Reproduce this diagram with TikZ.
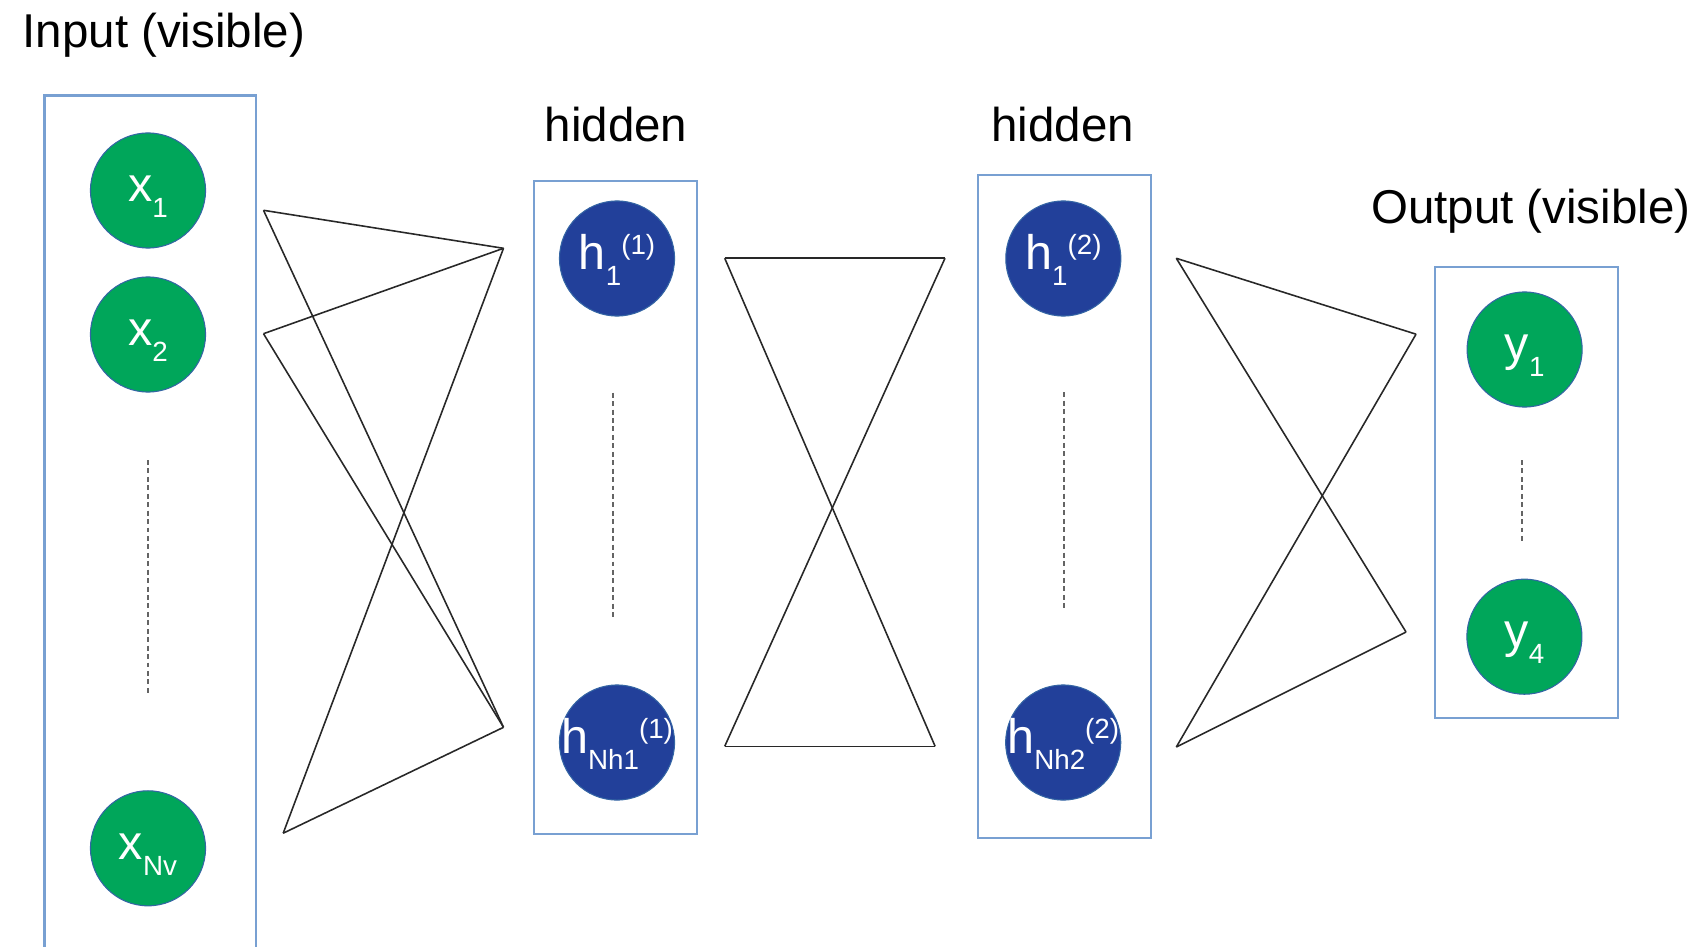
\documentclass[tikz,border=0pt]{standalone}
\usepackage{fontspec}
\setmainfont{Liberation Sans}
\definecolor{unitgreen}{RGB}{0,166,90}
\definecolor{unitblue}{RGB}{34,64,154}
\definecolor{unitedge}{RGB}{52,101,164}
\definecolor{layeredge}{RGB}{120,160,210}
\definecolor{linkgray}{RGB}{40,40,40}
\definecolor{dotgray}{RGB}{100,100,100}
% index helpers: lowered subscript and raised superscript
\newcommand\dnidx[1]{\raisebox{-4.5pt}{\fontsize{7.9pt}{9pt}\selectfont #1}}
\newcommand\upidx[1]{\raisebox{4.4pt}{\fontsize{7.9pt}{9pt}\selectfont #1}}
\tikzset{
  layerbox/.style={draw=layeredge, line width=0.6pt, rectangle, inner sep=0pt},
  unit/.style={circle, draw=unitedge, line width=0.3pt, inner sep=0pt, minimum size=1.15cm},
  vunit/.style={unit, fill=unitgreen},
  hunit/.style={unit, fill=unitblue},
  unitlbl/.style={anchor=base, inner sep=0pt, text=white, font=\fontsize{13.8pt}{16pt}\selectfont},
  head/.style={inner sep=0pt, font=\fontsize{13.5pt}{16pt}\selectfont},
  link/.style={draw=linkgray, line width=0.45pt},
  ellip/.style={draw=dotgray, line width=0.45pt, dash pattern=on 1.4pt off 1pt},
}
\begin{document}
\begin{tikzpicture}[x=0.01cm, y=-0.01cm]
\useasboundingbox (0,0) rectangle (1701,946);

% layer frames
\draw[layerbox] (44.5,960) -- (44.5,95.5) -- (256,95.5) -- (256,960);
\node[layerbox, minimum width=1.633cm, minimum height=6.52cm] (hbox1) at (615.35,507.5) {};
\node[layerbox, minimum width=1.722cm, minimum height=6.62cm] (hbox2) at (1064.4,506.5) {};
\node[layerbox, minimum width=1.828cm, minimum height=4.507cm] (obox) at (1526.6,492.85) {};

% layer titles
\node[head, anchor=base west] (tin) at (22,48) {Input (visible)};
\node[head, anchor=base] (th1) at (616,142) {hidden};
\node[head, anchor=base] (th2) at (1062.6,142) {hidden};
\node[head, anchor=base] (tout) at (1530.7,224) {Output (visible)};

% units
\node[vunit] (x1) at (148,190.5) {};
\node[vunit] (x2) at (148,334.5) {};
\node[vunit] (xn) at (148,848.3) {};
\node[hunit] (ha1) at (617,258.5) {};
\node[hunit] (han) at (617,742.5) {};
\node[hunit] (hb1) at (1063.3,258.5) {};
\node[hunit] (hbn) at (1063.2,742.5) {};
\node[vunit] (y1) at (1524.6,349.5) {};
\node[vunit] (y4) at (1524.4,636.7) {};

\node[unitlbl] (x1t) at ([yshift=-3.1pt]x1.center) {x\dnidx{1}};
\node[unitlbl] (x2t) at ([yshift=-3.1pt]x2.center) {x\dnidx{2}};
\node[unitlbl] (xnt) at ([yshift=-3.1pt]xn.center) {x\dnidx{Nv}};
\node[unitlbl] (ha1t) at ([yshift=-3.2pt]ha1.center) {h\dnidx{1}\upidx{(1)}};
\node[unitlbl] (hant) at ([yshift=-3.2pt]han.center) {h\dnidx{Nh1}\upidx{(1)}};
\node[unitlbl] (hb1t) at ([yshift=-3.2pt]hb1.center) {h\dnidx{1}\upidx{(2)}};
\node[unitlbl] (hbnt) at ([yshift=-3.2pt]hbn.center) {h\dnidx{Nh2}\upidx{(2)}};
\node[unitlbl] (y1t) at ([yshift=-3.1pt]y1.center) {y\dnidx{1}};
\node[unitlbl] (y4t) at ([yshift=-3.1pt]y4.center) {y\dnidx{4}};

% elided units
\coordinate (e1a) at (147.8,460);   \coordinate (e1b) at (147.8,695);
\coordinate (e2a) at (613,392.7);   \coordinate (e2b) at (613,620.5);
\coordinate (e3a) at (1064,392.3);  \coordinate (e3b) at (1064,611.7);
\coordinate (e4a) at (1521.7,460);  \coordinate (e4b) at (1521.7,542.4);
\draw[ellip] (e1a) -- (e1b);
\draw[ellip] (e2a) -- (e2b);
\draw[ellip] (e3a) -- (e3b);
\draw[ellip] (e4a) -- (e4b);

% input -> first hidden links
\coordinate (ia) at (263.5,210.3);
\coordinate (ib) at (263.5,333.7);
\coordinate (ic) at (283.2,833.2);
\coordinate (ja) at (503.5,248.3);
\coordinate (jb) at (503.5,727.3);
\draw[link] (ia) -- (ja);
\draw[link] (ia) -- (jb);
\draw[link] (ib) -- (ja);
\draw[link] (ib) -- (jb);
\draw[link] (ic) -- (ja);
\draw[link] (ic) -- (jb);

% first hidden -> second hidden links
\coordinate (ka) at (724.7,258.2);
\coordinate (kb) at (945,258.2);
\coordinate (kc) at (724.7,746.3);
\coordinate (kd) at (935.1,746.3);
\draw[link] (ka) -- (kb);
\draw[link] (ka) -- (kd);
\draw[link] (kb) -- (kc);
\draw[link] (kc) -- (kd);

% second hidden -> output links
\coordinate (ma) at (1176.3,258.3);
\coordinate (mb) at (1416,334.2);
\coordinate (mc) at (1176.3,747);
\coordinate (md) at (1406,632);
\draw[link] (ma) -- (mb);
\draw[link] (ma) -- (md);
\draw[link] (mb) -- (mc);
\draw[link] (mc) -- (md);
\end{tikzpicture}
\end{document}
